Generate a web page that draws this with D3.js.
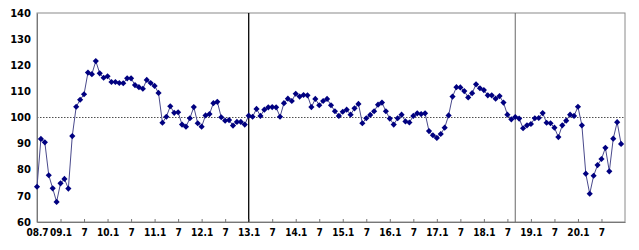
<!DOCTYPE html>
<html>
<head>
<meta charset="utf-8">
<script src="https://cdn.jsdelivr.net/npm/d3@7"></script>
<style>
  body { margin: 0; background: #fff; }
  svg { display: block; }
  .tick text { font-family: "DejaVu Sans", sans-serif; font-weight: bold; fill: #000; }
  .x-axis .tick text { font-family: "DejaVu Sans Condensed", "DejaVu Sans", sans-serif; font-stretch: condensed; }
</style>
</head>
<body>
<svg id="chart" width="639" height="250"></svg>
<script>
'use strict'

// monthly index, 2008.7 .. 2020.12 (150 months)
const values = [
  73.5, 91.8, 90.5, 77.9, 72.9, 67.7, 74.8, 76.5, 72.8, 92.9,
  104.1, 106.8, 108.9, 117.2, 116.6, 121.6, 116.9, 115.2, 115.8, 113.6,
  113.6, 113.2, 113.1, 115.0, 115.0, 112.4, 111.6, 111.0, 114.4, 113.2,
  112.1, 109.4, 98.0, 100.3, 104.3, 101.8, 102.0, 97.3, 96.5, 99.7,
  104.0, 97.8, 96.5, 100.8, 101.3, 105.5, 106.0, 100.1, 98.8, 99.0,
  96.9, 98.3, 98.3, 97.3, 100.7, 100.3, 103.3, 100.6, 103.0, 103.9,
  104.0, 103.9, 100.3, 105.5, 107.2, 106.3, 109.1, 108.0, 108.6, 108.5,
  104.0, 107.1, 104.7, 106.3, 107.1, 104.7, 102.4, 100.6, 102.2, 103.0,
  101.1, 103.5, 105.2, 97.8, 99.7, 101.0, 102.4, 104.9, 105.7, 102.4,
  99.6, 97.3, 99.7, 101.1, 98.5, 98.1, 100.6, 101.6, 101.3, 101.6,
  94.8, 93.2, 92.2, 93.7, 96.1, 100.8, 108.0, 111.6, 111.5, 110.1,
  107.7, 109.3, 112.7, 111.2, 110.5, 108.5, 108.5, 107.2, 108.2, 105.7,
  101.1, 99.3, 100.2, 99.6, 95.9, 97.0, 97.5, 99.7, 99.8, 101.7,
  98.0, 97.8, 96.1, 92.5, 97.0, 98.8, 101.1, 100.6, 104.1, 97.0,
  78.5, 70.8, 77.7, 81.8, 84.1, 88.4, 79.4, 91.9, 98.2, 89.9
]

const tickLabels = [
  '08.7', '09.1', '7', '10.1', '7', '11.1', '7', '12.1', '7', '13.1',
  '7', '14.1', '7', '15.1', '7', '16.1', '7', '17.1', '7', '18.1',
  '7', '19.1', '7', '20.1', '7'
]
const yTicks = [60, 70, 80, 90, 100, 110, 120, 130, 140]
const baseline = 100
// months (index) where a vertical divider is drawn: 2013.1 and 2018.9
const dividers = [54, 122]

const margin = { top: 13, right: 14, bottom: 28, left: 37 }
const width = 639, height = 250

const svg = d3.select('#chart')

const x = d3.scaleLinear()
  .domain([0, values.length])
  .range([margin.left, width - margin.right])

const y = d3.scaleLinear()
  .domain([60, 140])
  .range([height - margin.bottom, margin.top])

// plot frame
svg.append('rect')
  .attr('x', margin.left)
  .attr('y', margin.top)
  .attr('width', width - margin.right - margin.left)
  .attr('height', height - margin.bottom - margin.top)
  .attr('fill', 'none')
  .attr('stroke', '#8a8a8a')
  .attr('stroke-width', 1)

// 100 reference line
svg.append('line')
  .attr('x1', margin.left)
  .attr('x2', width - margin.right)
  .attr('y1', y(baseline))
  .attr('y2', y(baseline))
  .attr('stroke', '#222')
  .attr('stroke-width', 0.8)
  .attr('stroke-dasharray', '1.5,1.5')

// vertical dividers
svg.selectAll('.divider')
  .data(dividers)
  .enter()
  .append('line')
  .attr('class', 'divider')
  .attr('x1', d => x(d))
  .attr('x2', d => x(d))
  .attr('y1', margin.top)
  .attr('y2', height - margin.bottom)
  .attr('stroke', (d, i) => i === 0 ? '#111' : '#666')
  .attr('stroke-width', (d, i) => i === 0 ? 1.4 : 1)

// axes
const xAxis = svg.append('g')
  .attr('class', 'x-axis')
  .attr('transform', 'translate(0,' + (height - margin.bottom) + ')')
  .call(d3.axisBottom(x)
    .tickValues(tickLabels.map((d, i) => i * 6))
    .tickFormat((d, i) => tickLabels[i])
    .tickSizeInner(-3)
    .tickSizeOuter(0)
    .tickPadding(7))
xAxis.select('.domain').attr('stroke', '#777')
xAxis.selectAll('.tick line').attr('stroke', '#777')
xAxis.selectAll('.tick text').attr('font-size', 10)

const yAxis = svg.append('g')
  .attr('transform', 'translate(' + margin.left + ',0)')
  .call(d3.axisLeft(y)
    .tickValues(yTicks)
    .tickSize(0)
    .tickPadding(6))
yAxis.select('.domain').attr('stroke', '#777')
yAxis.selectAll('.tick text').attr('font-size', 10)

// series line
const line = d3.line()
  .x((d, i) => x(i))
  .y(d => y(d))

svg.append('path')
  .datum(values)
  .attr('d', line)
  .attr('fill', 'none')
  .attr('stroke', '#4a4a8c')
  .attr('stroke-width', 1)

// diamond markers
const diamond = d3.symbol(d3.symbolSquare, 19)
svg.selectAll('.marker')
  .data(values)
  .enter()
  .append('path')
  .attr('class', 'marker')
  .attr('d', diamond)
  .attr('transform', (d, i) => 'translate(' + x(i) + ',' + y(d) + ') rotate(45)')
  .attr('fill', '#000080')
</script>
</body>
</html>
